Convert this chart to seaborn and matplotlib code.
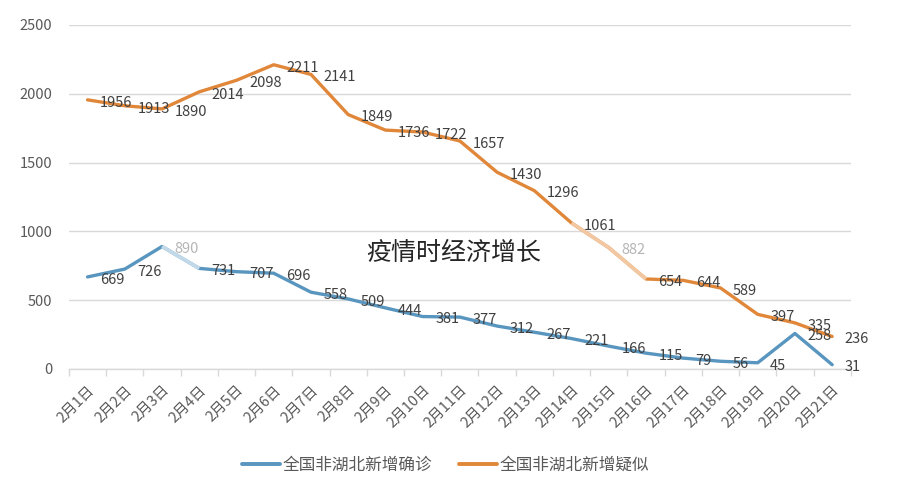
import matplotlib
matplotlib.use("Agg")
import matplotlib.pyplot as plt
import matplotlib.transforms as mtransforms
import seaborn as sns
import pandas as pd
import numpy as np

dates = [f"2月{i}日" for i in range(1, 22)]
confirmed = [669, 726, 890, 731, 707, 696, 558, 509, 444, 381, 377, 312, 267,
             221, 166, 115, 79, 56, 45, 258, 31]
suspected = [1956, 1913, 1890, 2014, 2098, 2211, 2141, 1849, 1736, 1722, 1657,
             1430, 1296, 1061, 882, 654, 644, 589, 397, 335, 236]
series_names = ["全国非湖北新增确诊", "全国非湖北新增疑似"]
watermark = "疫情时经济增长"
yticks = [0, 500, 1000, 1500, 2000, 2500]

blue = "#5895bf"
orange = "#e0873a"
light_blue = "#c2d9ea"
light_orange = "#f2c8a2"

sns.set_theme(style="white")
plt.rcParams["font.family"] = ["Noto Sans CJK SC", "DejaVu Sans"]

df = pd.DataFrame({
    "date": dates * 2,
    "value": confirmed + suspected,
    "series": [series_names[0]] * len(dates) + [series_names[1]] * len(dates),
})

fig = plt.figure(figsize=(9.07, 4.90), dpi=100)
ax = fig.add_axes([0.076, 0.247, 0.862, 0.702])

sns.lineplot(data=df, x="date", y="value", hue="series",
             palette=[blue, orange], linewidth=2.4, sort=False, ax=ax,
             legend=True)

# faded segments behind the watermark glare
xs = np.arange(len(dates))
ax.plot(xs[2:4], confirmed[2:4], color=light_blue, lw=2.6, solid_capstyle="butt", zorder=3)
ax.plot(xs[13:16], suspected[13:16], color=light_orange, lw=2.6, solid_capstyle="butt", zorder=3)

label_color = "#404040"
for i, v in enumerate(confirmed):
    c = "#b5b5b5" if i == 2 else label_color
    ax.annotate(str(v), (i, v), xytext=(9, -2), textcoords="offset points",
                ha="left", va="center", fontsize=10.5, color=c, zorder=5)
for i, v in enumerate(suspected):
    c = "#b5b5b5" if i == 14 else label_color
    ax.annotate(str(v), (i, v), xytext=(9, -2), textcoords="offset points",
                ha="left", va="center", fontsize=10.5, color=c, zorder=5)

ax.set_xlim(-0.5, len(dates) - 0.5)
ax.set_ylim(0, 2500)
ax.set_yticks(yticks)
ax.set_yticklabels([str(t) for t in yticks], fontsize=10.5, color="#595959")
ax.yaxis.grid(True, color="#d9d9d9", linewidth=1)
ax.set_axisbelow(True)
ax.set_xlabel("")
ax.set_ylabel("")

ax.set_xticks(xs)
ax.set_xticklabels(dates, rotation=45, ha="right", va="top",
                   rotation_mode="anchor", fontsize=10.5, color="#595959")
offset = mtransforms.ScaledTranslation(-5 / 100, 0, fig.dpi_scale_trans)
for lbl in ax.get_xticklabels():
    lbl.set_transform(lbl.get_transform() + offset)
ax.set_xticks(np.arange(-0.5, len(dates), 1.0), minor=True)
ax.tick_params(axis="x", which="major", length=0, pad=10)
ax.tick_params(axis="x", which="minor", length=5, width=1, color="#d9d9d9",
               bottom=True, direction="out")
ax.tick_params(axis="y", length=0, pad=12)

for s in ["top", "right", "left"]:
    ax.spines[s].set_visible(False)
ax.spines["bottom"].set_color("#d9d9d9")
ax.spines["bottom"].set_linewidth(1)

fig.text(0.50, 0.483, watermark, ha="center", va="center", fontsize=18,
         color="#262626", fontweight="light")

leg = ax.legend(loc="center", bbox_to_anchor=(0.482, -0.28), ncol=2, frameon=False,
                fontsize=12, handlelength=2.3, handletextpad=0.15,
                columnspacing=1.6)
for t in leg.get_texts():
    t.set_color("#595959")
for h in leg.get_lines():
    h.set_linewidth(2.8)

fig.savefig("out.png", dpi=100, facecolor="white")
